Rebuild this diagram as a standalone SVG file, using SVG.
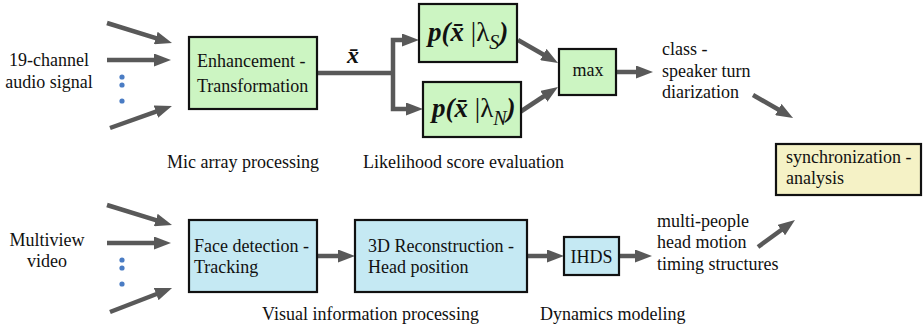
<svg xmlns="http://www.w3.org/2000/svg" width="923" height="331" viewBox="0 0 923 331">
<style>
.box{stroke:#111;stroke-width:2.2}
.g{fill:#ccf5c2}
.b{fill:#c5e9f3}
.y{fill:#f5f2c6}
.c{fill:none;stroke:#595959;stroke-width:4.5;marker-end:url(#ah)}
.cl{fill:none;stroke:#595959;stroke-width:4.5}
.dot{fill:#4a7cc4}
.bi{font-weight:bold;font-style:italic}
</style>
<defs>
<marker id="ah" markerUnits="userSpaceOnUse" markerWidth="17" markerHeight="13" viewBox="0 0 17 13" refX="6" refY="6.5" orient="auto">
<path d="M0,0 L17,6.5 L0,13 z" fill="#595959"/>
</marker>
</defs>
<rect width="923" height="331" fill="#fff"/>
<g id="connectors">
<line class="c" x1="107" y1="23" x2="161.5" y2="39.8"/>
<line class="c" x1="107" y1="60" x2="160" y2="60"/>
<line class="c" x1="110" y1="128" x2="161.6" y2="109.7"/>
<path class="cl" d="M317,73 H393"/>
<path class="c" d="M393,73 V40 H408"/>
<path class="c" d="M393,73 V109 H412"/>
<line class="c" x1="518" y1="40" x2="548.5" y2="57.5"/>
<line class="c" x1="520" y1="112" x2="548.8" y2="93"/>
<line class="c" x1="616" y1="72" x2="642" y2="72"/>
<line class="c" x1="753" y1="95" x2="783.5" y2="112.5"/>
<line class="c" x1="107" y1="205" x2="161.5" y2="221.8"/>
<line class="c" x1="107" y1="243" x2="160" y2="243"/>
<line class="c" x1="110" y1="312" x2="161.8" y2="292"/>
<line class="c" x1="317" y1="256" x2="344" y2="256"/>
<line class="c" x1="527" y1="256" x2="553" y2="256"/>
<line class="c" x1="619" y1="256" x2="641" y2="256"/>
<line class="c" x1="758" y1="247" x2="786.1" y2="226.5"/>
</g>
<g font-family="'Liberation Serif', 'DejaVu Serif', serif" font-size="18" fill="#111">
<g id="audio-input">
<text x="49" y="66" text-anchor="middle">19-channel</text>
<text x="49" y="88" text-anchor="middle">audio signal</text>
<circle class="dot" cx="122" cy="77" r="2.6"/>
<circle class="dot" cx="122" cy="85" r="2.6"/>
<circle class="dot" cx="122" cy="101" r="2.6"/>
</g>
<g id="enhancement">
<rect class="box g" x="189" y="37" width="128" height="72"/>
<text x="197" y="67">Enhancement -</text>
<text x="197" y="92">Transformation</text>
</g>
<g id="xbar-label">
<text x="347" y="63" class="bi" font-size="24">x̄</text>
</g>
<g id="likelihood-s">
<rect class="box g" x="419" y="4" width="98" height="58"/>
<text x="428" y="41" font-size="27"><tspan class="bi">p(x̄</tspan><tspan> |λ</tspan><tspan font-size="20" font-style="italic" dy="8">S</tspan><tspan class="bi" dy="-8">)</tspan></text>
</g>
<g id="likelihood-n">
<rect class="box g" x="423" y="82" width="98" height="55"/>
<text x="432" y="117" font-size="27"><tspan class="bi">p(x̄</tspan><tspan> |λ</tspan><tspan font-size="20" font-style="italic" dy="8">N</tspan><tspan class="bi" dy="-8">)</tspan></text>
</g>
<g id="max">
<rect class="box g" x="559" y="49" width="57" height="46"/>
<text x="588" y="76" text-anchor="middle">max</text>
</g>
<g id="class-label">
<text x="662" y="55">class -</text>
<text x="662" y="77">speaker turn</text>
<text x="662" y="98">diarization</text>
</g>
<g id="sync">
<rect class="box y" x="776" y="144" width="145" height="51"/>
<text x="786" y="163">synchronization -</text>
<text x="786" y="184">analysis</text>
</g>
<g id="video-input">
<text x="47" y="246" text-anchor="middle">Multiview</text>
<text x="47" y="267" text-anchor="middle">video</text>
<circle class="dot" cx="122" cy="260" r="2.6"/>
<circle class="dot" cx="122" cy="268" r="2.6"/>
<circle class="dot" cx="122" cy="284" r="2.6"/>
</g>
<g id="face">
<rect class="box b" x="189" y="220" width="128" height="72"/>
<text x="194" y="252">Face detection -</text>
<text x="194" y="273">Tracking</text>
</g>
<g id="reconstruction">
<rect class="box b" x="355" y="220" width="172" height="72"/>
<text x="368" y="252">3D Reconstruction -</text>
<text x="368" y="273">Head position</text>
</g>
<g id="ihds">
<rect class="box b" x="564" y="237" width="55" height="38"/>
<text x="591.5" y="263" text-anchor="middle">IHDS</text>
</g>
<g id="head-motion-label">
<text x="657" y="227">multi-people</text>
<text x="657" y="248">head motion</text>
<text x="657" y="270">timing structures</text>
</g>
<g id="captions">
<text x="167" y="168">Mic array processing</text>
<text x="363" y="168">Likelihood score evaluation</text>
<text x="262" y="320">Visual information processing</text>
<text x="540" y="320">Dynamics modeling</text>
</g>
</g>
</svg>
